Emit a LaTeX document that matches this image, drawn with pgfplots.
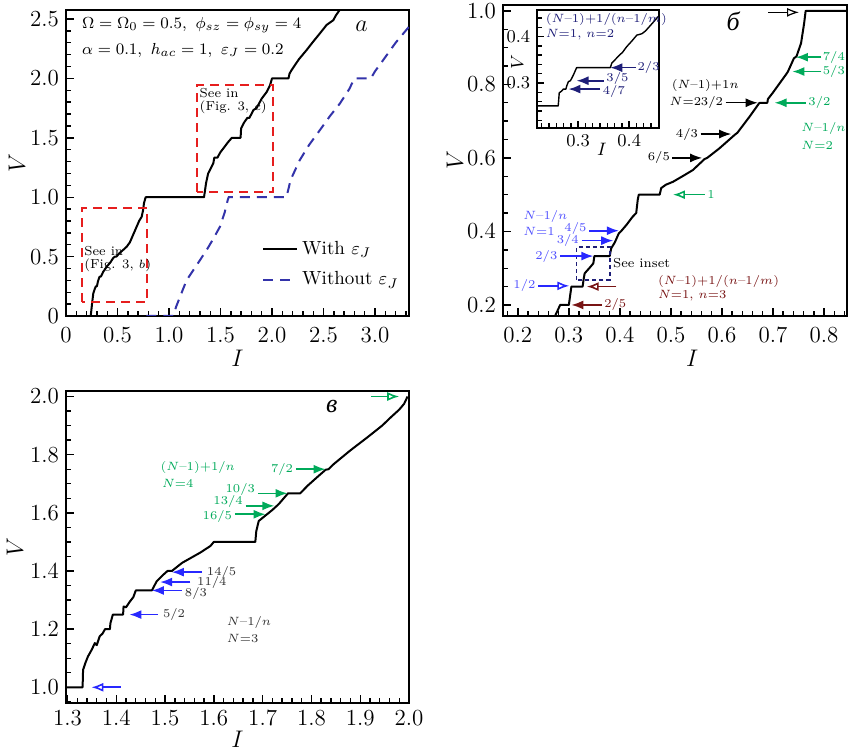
\documentclass[border=0pt]{standalone}
\usepackage{fontspec}
\newfontfamily\cyrfont{Liberation Serif}
\usepackage{pgfplots}
\pgfplotsset{compat=1.18}
\usetikzlibrary{arrows.meta}

\definecolor{dashblue}{RGB}{51,51,170}
\definecolor{boxred}{RGB}{230,30,30}
\definecolor{grn}{RGB}{0,170,90}
\definecolor{arrblue}{RGB}{40,40,255}
\definecolor{txtblue}{RGB}{80,80,255}
\definecolor{dkred}{RGB}{120,20,20}
\definecolor{navy}{RGB}{30,30,120}
\definecolor{dgray}{RGB}{50,50,50}

\newcommand{\fs}[1]{\fontsize{#1}{#1}\selectfont}
\newcommand{\md}{\hbox{--}}

\tikzset{
  lbl/.style={font=\fs{6.5}, inner sep=1pt},
  fa/.style={-{Latex[length=6pt,width=4.5pt]}, line width=0.8pt},
  oa/.style={-{Latex[open,length=6pt,width=4.5pt,fill=white]}, line width=0.8pt},
}
\pgfplotsset{
  panel/.style={
    scale only axis, anchor=south west, clip mode=individual,
    axis line style={line width=0.9pt},
    tick align=inside, tick pos=left,
    major tick length=4pt, minor tick length=2.5pt,
    every tick/.style={black, line width=0.7pt},
    tick label style={font=\fs{11.5}},
    label style={font=\fs{12}},
    xlabel={$I$}, ylabel={$V$},
  },
  xl/.style 2 args={xlabel style={at={(axis description cs:#1,0)}, anchor=center, yshift=-#2}},
  yl/.style 2 args={ylabel style={at={(axis description cs:0,#1)}, anchor=center, yshift=#2}},
  curve/.style={black, line width=1pt, line join=round},
}

\begin{document}
\begin{tikzpicture}
\path[use as bounding box] (0,0) rectangle (424pt,375pt);

% ---------- panel a
\begin{axis}[panel,
  at={(33pt,217pt)}, width=171.5pt, height=153pt,
  xl={0.5}{21pt}, yl={0.5}{24.5pt},
  xticklabel style={yshift=-2pt},
  xmin=0, xmax=3.33, ymin=0, ymax=2.576,
  xtick={0,0.5,1.0,1.5,2.0,2.5,3.0}, xticklabels={0,0.5,1.0,1.5,2.0,2.5,3.0},
  ytick={0,0.5,1.0,1.5,2.0,2.5}, yticklabels={0,0.5,1.0,1.5,2.0,2.5},
  minor xtick={0.1,0.2,...,3.3}, minor ytick={0.1,0.2,...,2.5},
  legend style={draw=none, fill=none, at={(0.565,0.265)}, anchor=north west,
    font=\fs{9.5}, row sep=3pt, inner sep=1pt},
  legend cell align=left,
  legend image code/.code={\draw[#1] (0pt,0pt) -- (17pt,0pt);},
]
\addplot[curve] coordinates {
(0.24,0) (0.255,0.12) (0.265,0.19) (0.28,0.23) (0.29,0.25) (0.30,0.25)
(0.31,0.29) (0.325,0.33) (0.34,0.333) (0.36,0.37) (0.395,0.415) (0.43,0.45)
(0.46,0.49) (0.476,0.5) (0.49,0.5) (0.52,0.53) (0.56,0.56) (0.589,0.583)
(0.62,0.62) (0.66,0.70) (0.686,0.752) (0.71,0.80) (0.735,0.836) (0.748,0.89)
(0.757,0.949) (0.77,0.99) (0.774,1.0) (1.34,1.0) (1.35,1.06) (1.36,1.12)
(1.38,1.2) (1.41,1.25) (1.43,1.285) (1.44,1.333) (1.47,1.333) (1.50,1.38)
(1.527,1.41) (1.57,1.46) (1.61,1.5) (1.695,1.5) (1.70,1.58) (1.73,1.63)
(1.76,1.667) (1.78,1.667) (1.82,1.734) (1.85,1.75) (1.90,1.83) (1.95,1.888)
(1.98,1.94) (2.0,2.0) (2.16,2.0) (2.17,2.04) (2.19,2.07) (2.26,2.16)
(2.337,2.24) (2.40,2.31) (2.466,2.38) (2.53,2.45) (2.595,2.49) (2.62,2.53)
(2.66,2.58)};
\addlegendentry{With $\varepsilon_J$}
\addplot[dashblue, line width=1pt, dash pattern=on 5pt off 3.5pt] coordinates {
(0.78,0) (1.04,0) (1.07,0.08) (1.17,0.30) (1.27,0.43) (1.366,0.556)
(1.43,0.65) (1.495,0.752) (1.54,0.87) (1.57,0.976) (1.58,1.0) (2.14,1.0)
(2.16,1.07) (2.18,1.145) (2.27,1.313) (2.36,1.44) (2.466,1.566) (2.56,1.68)
(2.66,1.79) (2.75,1.91) (2.8,2.0) (2.96,2.0) (3.0,2.06) (3.08,2.155)
(3.2,2.3) (3.33,2.435)};
\addlegendentry{Without $\varepsilon_J$}
\draw[boxred, line width=0.9pt, dash pattern=on 4.5pt off 3pt]
  (axis cs:0.152,0.12) rectangle (axis cs:0.79,0.906);
\draw[boxred, line width=0.9pt, dash pattern=on 4.5pt off 3pt]
  (axis cs:1.27,1.046) rectangle (axis cs:2.01,1.944);
\node[lbl, anchor=north west, align=left] at (axis cs:0.155,0.61)
  {See in\\(Fig. 3, $b$)};
\node[lbl, anchor=north west, align=left] at (axis cs:1.275,1.94)
  {See in\\(Fig. 3, $c$)};
\node[anchor=west, font=\fs{8.3}, inner sep=0pt] at (rel axis cs:0.046,0.951)
  {$\Omega=\Omega_0=0.5,\ \phi_{sz}=\phi_{sy}=4$};
\node[anchor=west, font=\fs{8.3}, inner sep=0pt] at (rel axis cs:0.046,0.869)
  {$\alpha=0.1,\ h_{ac}=1,\ \varepsilon_J=0.2$};
\node[font=\fs{13}] at (rel axis cs:0.862,0.945) {$a$};
\end{axis}

% ---------- panel b
\begin{axis}[panel,
  at={(251.5pt,217pt)}, width=172pt, height=155.5pt,
  xl={0.55}{21pt}, yl={0.5}{24pt},
  xticklabel style={yshift=-2pt},
  xmin=0.171, xmax=0.845, ymin=0.170, ymax=1.016,
  xtick={0.2,0.3,0.4,0.5,0.6,0.7,0.8}, xticklabels={0.2,0.3,0.4,0.5,0.6,0.7,0.8},
  ytick={0.2,0.4,0.6,0.8,1.0}, yticklabels={0.2,0.4,0.6,0.8,1.0},
  minor xtick={0.18,0.20,...,0.84}, minor ytick={0.2,0.25,...,1.0},
]
\addplot[curve] coordinates {
(0.273,0.17) (0.278,0.185) (0.283,0.2) (0.30,0.2) (0.302,0.22) (0.305,0.25)
(0.327,0.25) (0.329,0.27) (0.331,0.286) (0.34,0.30) (0.348,0.313) (0.35,0.333)
(0.38,0.333) (0.383,0.354) (0.39,0.37) (0.398,0.395) (0.402,0.4) (0.413,0.418)
(0.425,0.44) (0.432,0.45) (0.435,0.486) (0.437,0.5) (0.478,0.5) (0.481,0.518)
(0.49,0.527) (0.504,0.535) (0.525,0.552) (0.543,0.567) (0.566,0.597) (0.571,0.6)
(0.595,0.626) (0.626,0.664) (0.630,0.668) (0.654,0.712) (0.673,0.749)
(0.675,0.75) (0.689,0.75) (0.69,0.76) (0.699,0.776) (0.725,0.826) (0.729,0.834)
(0.741,0.871) (0.746,0.876) (0.755,0.912) (0.761,0.966) (0.764,1.0) (0.845,1.0)};
% inset marker
\draw[navy, line width=0.9pt, dash pattern=on 2pt off 1.5pt]
  (axis cs:0.315,0.268) rectangle (axis cs:0.38,0.357);
\node[lbl, anchor=west] at (axis cs:0.382,0.313) {See inset};
% black arrows
\draw[oa, line width=0.6pt] (axis cs:0.691,0.996) -- (axis cs:0.751,0.996);
\node[lbl, anchor=west, align=left] at (axis cs:0.497,0.797) {$(N{\md}1){+}1n$};
\node[lbl, anchor=west] at (axis cs:0.493,0.753) {$N{=}2$};
\draw[fa, line width=0.6pt] (axis cs:0.607,0.75) node[lbl, anchor=east] {$3/2$} -- (axis cs:0.67,0.75);
\draw[fa, line width=0.6pt] (axis cs:0.558,0.665) node[lbl, anchor=east] {$4/3$} -- (axis cs:0.618,0.665);
\draw[fa, line width=0.6pt] (axis cs:0.503,0.6) node[lbl, anchor=east] {$6/5$} -- (axis cs:0.561,0.6);
% green arrows
\draw[fa, grn] (axis cs:0.795,0.874) node[lbl, anchor=west, inner sep=0.3pt] {$7/4$} -- (axis cs:0.745,0.874);
\draw[fa, grn] (axis cs:0.795,0.835) node[lbl, anchor=west, inner sep=0.3pt] {$5/3$} -- (axis cs:0.738,0.835);
\draw[fa, grn] (axis cs:0.764,0.75) node[lbl, anchor=west] {$3/2$} -- (axis cs:0.703,0.75);
\draw[oa, grn] (axis cs:0.566,0.5) node[lbl, anchor=west] {$1$} -- (axis cs:0.504,0.5);
\node[lbl, grn, anchor=west] at (axis cs:0.751,0.68) {$N{\md}1/n$};
\node[lbl, grn, anchor=west] at (axis cs:0.751,0.635) {$N{=}2$};
% blue arrows
\node[lbl, txtblue, anchor=west] at (axis cs:0.206,0.442) {$N{\md}1/n$};
\node[lbl, txtblue, anchor=west] at (axis cs:0.206,0.401) {$N{=}1$};
\draw[fa, arrblue] (axis cs:0.34,0.402) node[lbl, txtblue, anchor=east, yshift=1pt] {$4/5$} -- (axis cs:0.398,0.402);
\draw[fa, arrblue] (axis cs:0.325,0.375) node[lbl, txtblue, anchor=east] {$3/4$} -- (axis cs:0.387,0.375);
\draw[fa, arrblue] (axis cs:0.283,0.333) node[lbl, txtblue, anchor=east] {$2/3$} -- (axis cs:0.348,0.333);
\draw[oa, arrblue] (axis cs:0.24,0.252) node[lbl, txtblue, anchor=east] {$1/2$} -- (axis cs:0.301,0.252);
% dark red arrows
\draw[oa, dkred] (axis cs:0.393,0.25) -- (axis cs:0.335,0.25);
\draw[fa, dkred] (axis cs:0.364,0.2) node[lbl, anchor=west] {$2/5$} -- (axis cs:0.305,0.2);
\node[lbl, dkred, anchor=west] at (axis cs:0.47,0.265) {$(N{\md}1){+}1/(n{\md}1/m)$};
\node[lbl, dkred, anchor=west] at (axis cs:0.47,0.224) {$N{=}1$, $n{=}3$};
\node[font=\fs{13}\cyrfont\itshape] at (rel axis cs:0.669,0.946) {б};
\end{axis}

% ---------- inset
\begin{axis}[panel,
  at={(268.65pt,311.15pt)}, width=61pt, height=58.85pt,
  xl={0.53}{10.8pt}, yl={0.56}{10pt},
  axis background/.style={fill=white},
  xmin=0.22, xmax=0.459, ymin=0.204, ymax=0.457,
  xtick={0.3,0.4}, xticklabels={0.3,0.4},
  ytick={0.3,0.4}, yticklabels={0.3,0.4},
  minor xtick={0.2286,0.2429,0.2571,0.2714,0.2857,0.3143,0.3286,0.3429,0.3571,0.3714,0.3857,0.4143,0.4286,0.4429,0.4571},
  minor ytick={0.22,0.24,...,0.44},
  major tick length=3.5pt, minor tick length=2.5pt,
  tick label style={font=\fs{9}},
  label style={font=\fs{9.5}},
]
\addplot[curve, line width=0.7pt] coordinates {
(0.22,0.251) (0.261,0.251) (0.263,0.279) (0.268,0.283) (0.271,0.287)
(0.276,0.287) (0.278,0.295) (0.281,0.303) (0.285,0.305) (0.291,0.318)
(0.297,0.333) (0.363,0.333) (0.366,0.343) (0.374,0.352) (0.382,0.361)
(0.387,0.366) (0.395,0.378) (0.405,0.39) (0.415,0.403) (0.425,0.406)
(0.432,0.412) (0.445,0.428) (0.457,0.443)};
\draw[fa, navy] (axis cs:0.413,0.333) node[lbl, anchor=west, inner sep=0.5pt] {$2/3$} -- (axis cs:0.363,0.333);
\draw[fa, navy] (axis cs:0.35,0.305) node[lbl, anchor=west, yshift=1pt] {$3/5$} -- (axis cs:0.297,0.305);
\draw[fa, navy] (axis cs:0.343,0.287) node[lbl, anchor=west, yshift=-1pt] {$4/7$} -- (axis cs:0.281,0.287);
\node[lbl, navy, anchor=west] at (axis cs:0.232,0.436) {$(N{\md}1){+}1/(n{\md}1/m)$};
\node[lbl, navy, anchor=west] at (axis cs:0.232,0.405) {$N{=}1$, $n{=}2$};
\end{axis}

% ---------- panel c
\begin{axis}[panel,
  at={(33pt,23.5pt)}, width=171.5pt, height=156pt,
  xl={0.5}{18pt}, yl={0.5}{25.5pt},
  xmin=1.297, xmax=2.0, ymin=0.946, ymax=2.019,
  xtick={1.3,1.4,1.5,1.6,1.7,1.8,1.9,2.0}, xticklabels={1.3,1.4,1.5,1.6,1.7,1.8,1.9,2.0},
  ytick={1.0,1.2,1.4,1.6,1.8,2.0}, yticklabels={1.0,1.2,1.4,1.6,1.8,2.0},
  minor xtick={1.3,1.32,...,2.0}, minor ytick={0.95,1.0,...,2.0},
]
\addplot[curve] coordinates {
(1.297,1.0) (1.331,1.0) (1.332,1.06) (1.337,1.085) (1.342,1.106) (1.35,1.13)
(1.356,1.152) (1.36,1.145) (1.366,1.175) (1.372,1.185) (1.377,1.2) (1.387,1.2)
(1.388,1.22) (1.393,1.25) (1.414,1.25) (1.415,1.278) (1.42,1.275) (1.428,1.295)
(1.435,1.31) (1.44,1.333) (1.473,1.333) (1.483,1.365) (1.497,1.388) (1.505,1.4)
(1.514,1.4) (1.535,1.428) (1.572,1.463) (1.593,1.486) (1.6,1.5) (1.685,1.5)
(1.687,1.537) (1.692,1.572) (1.709,1.595) (1.72,1.61) (1.733,1.63) (1.752,1.667)
(1.777,1.667) (1.792,1.693) (1.81,1.72) (1.829,1.748) (1.835,1.75) (1.846,1.768)
(1.88,1.815) (1.915,1.86) (1.945,1.90) (1.963,1.929) (1.98,1.955) (1.99,1.975)
(1.997,2.0)};
% green
\draw[oa, grn] (axis cs:1.922,2.0) -- (axis cs:1.98,2.0);
\draw[fa, grn] (axis cs:1.768,1.75) node[lbl, anchor=east] {$7/2$} -- (axis cs:1.829,1.75);
\draw[fa, grn] (axis cs:1.69,1.667) node[lbl, anchor=east, yshift=2pt] {$10/3$} -- (axis cs:1.751,1.667);
\draw[fa, grn] (axis cs:1.665,1.624) node[lbl, anchor=east, yshift=2pt] {$13/4$} -- (axis cs:1.724,1.624);
\draw[fa, grn] (axis cs:1.643,1.595) node[lbl, anchor=east, yshift=-1pt] {$16/5$} -- (axis cs:1.706,1.595);
\node[lbl, grn, anchor=west] at (axis cs:1.486,1.756) {$(N{\md}1){+}1/n$};
\node[lbl, grn, anchor=west] at (axis cs:1.489,1.702) {$N{=}4$};
% blue
\draw[fa, arrblue] (axis cs:1.576,1.396) node[lbl, dgray, anchor=west, xshift=1pt] {$14/5$} -- (axis cs:1.514,1.396);
\draw[fa, arrblue] (axis cs:1.552,1.362) node[lbl, dgray, anchor=west, xshift=2pt] {$11/4$} -- (axis cs:1.49,1.362);
\draw[fa, arrblue] (axis cs:1.535,1.333) node[lbl, dgray, anchor=north west, yshift=3pt] {$8/3$} -- (axis cs:1.473,1.333);
\draw[fa, arrblue] (axis cs:1.486,1.25) node[lbl, dgray, anchor=west, xshift=1pt] {$5/2$} -- (axis cs:1.427,1.25);
\draw[oa, arrblue] (axis cs:1.409,1.0) -- (axis cs:1.349,1.0);
\node[lbl, dgray, anchor=west] at (axis cs:1.622,1.223) {$N{\md}1/n$};
\node[lbl, dgray, anchor=west] at (axis cs:1.622,1.167) {$N{=}3$};
\node[font=\fs{13}\cyrfont\itshape] at (rel axis cs:0.775,0.95) {в};
\end{axis}
\end{tikzpicture}
\end{document}
